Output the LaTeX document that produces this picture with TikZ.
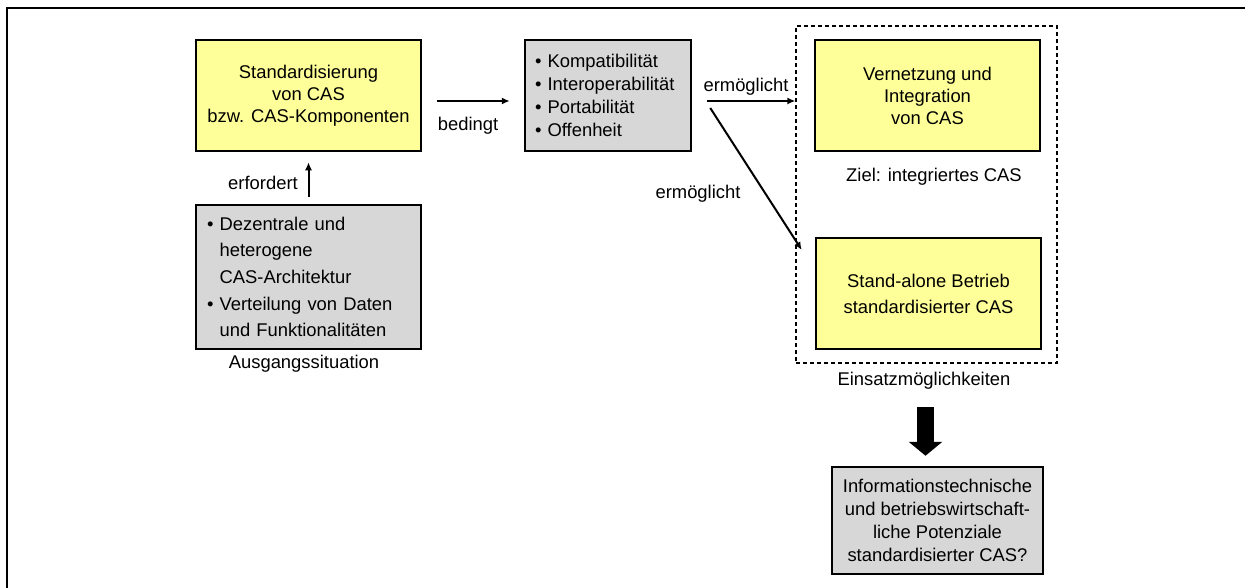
\documentclass[tikz,border=0pt]{standalone}
\usepackage{fontspec}
\setmainfont{Liberation Sans}
\usetikzlibrary{arrows.meta}
\definecolor{boxyellow}{RGB}{255,255,153}
\definecolor{boxgray}{RGB}{215,215,215}
\tikzset{
 ybox/.style={draw, line width=2.5pt, fill=boxyellow, minimum width=225pt, minimum height=111pt, align=center, inner sep=0pt, font=\fontsize{18.4}{22}\selectfont},
 gbox/.style={draw, line width=2.5pt, fill=boxgray, inner sep=0pt},
 lbl/.style={inner sep=0pt, font=\fontsize{18.4}{22}\selectfont},
 conn/.style={line width=2pt, -{Latex[length=8pt,width=7pt]}},
}
\begin{document}
\begin{tikzpicture}[x=1pt,y=-1pt]
\useasboundingbox (0,0) rectangle (1245,587);
\clip (0,0) rectangle (1245,587);
\draw[line width=2.5pt] (7,8) rectangle (1300,650);

% dashed frame
\node[draw, line width=1.2pt, dash pattern=on 4pt off 3pt, minimum width=261pt, minimum height=337pt, inner sep=0pt] (frame) at (926.5,194.5) {};

\node[ybox] (std) at (308.5,95.5) {Standardisierung\\von CAS\\bzw. CAS-Komponenten};
\node[gbox, minimum width=225pt, minimum height=144pt, text width=203pt, align=left, font=\fontsize{18.4}{26.7}\selectfont] (ausg) at (308.5,277)
 {• Dezentrale und\\\phantom{• }heterogene\\\phantom{• }CAS-Architektur\\• Verteilung von Daten\\\phantom{• }und Funktionalitäten};
\node[gbox, minimum width=166pt, minimum height=111pt, text width=146pt, align=left, font=\fontsize{18.4}{23}\selectfont] (komp) at (608,95.5)
 {• Kompatibilität\\• Interoperabilität\\• Portabilität\\• Offenheit};
\node[ybox] (vern) at (927.5,95.5) {Vernetzung und\\Integration\\von CAS};
\node[ybox, font=\fontsize{18.4}{26}\selectfont] (stand) at (928.5,293.5) {Stand-alone Betrieb\\standardisierter CAS};
\node[gbox, minimum width=211pt, minimum height=107pt, align=center, font=\fontsize{18.4}{23}\selectfont] (pot) at (937.5,520.5)
 {Informationstechnische\\und betriebswirtschaft-\\liche Potenziale\\standardisierter CAS?};

\node[lbl] (lerf) at (263,183) {erfordert};
\node[lbl] (lbed) at (468,126) {bedingt};
\node[lbl] (lerm1) at (746,87) {ermöglicht};
\node[lbl] (lerm2) at (698,194) {ermöglicht};
\node[lbl] (lausg) at (304,364) {Ausgangssituation};
\node[lbl] (lziel) at (934,177) {Ziel: integriertes CAS};
\node[lbl] (leins) at (924,381) {Einsatzmöglichkeiten};

\draw[conn] ([yshift=7pt]ausg.north) -- ([yshift=-10pt]std.south);
\draw[conn] ([xshift=15pt,yshift=-5.5pt]std.east) -- ([xshift=-14pt,yshift=-5.5pt]komp.west);
\draw[conn] ([xshift=15pt,yshift=-5.5pt]komp.east) -- ([yshift=-5.5pt]frame.west |- komp.east);
\draw[conn] ([xshift=18pt,yshift=-12.5pt]komp.east) -- ([xshift=-13pt,yshift=43.5pt]stand.west);

\coordinate (bigtop) at (925.5,407);
\draw[line width=17pt, -{Triangle[width=33pt,length=14pt]}] (bigtop) -- ([xshift=-12pt,yshift=10pt]pot.north);
\end{tikzpicture}
\end{document}
